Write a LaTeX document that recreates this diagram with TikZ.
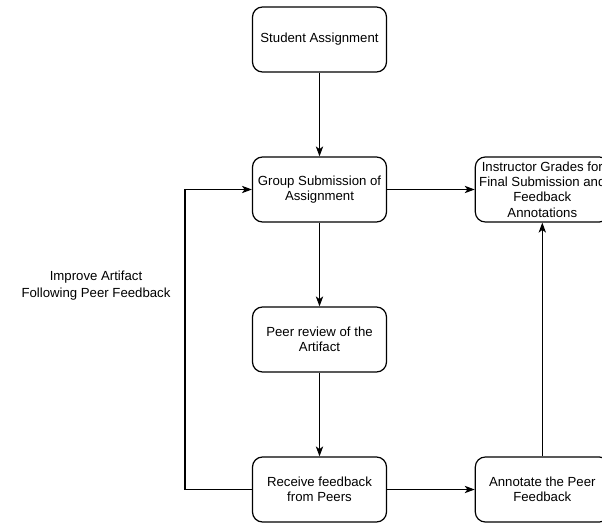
\documentclass[tikz,border=0pt]{standalone}
\usepackage{fontspec}
\setmainfont{Liberation Sans}
\usetikzlibrary{arrows.meta}
\begin{document}
\begin{tikzpicture}[x=0.75pt,y=-0.75pt,
  stepbox/.style={draw, line width=0.9pt, rounded corners=7.5pt, minimum width=134*0.75pt,
    minimum height=65*0.75pt, align=center, font=\fontsize{9.9}{11.4}\selectfont, inner sep=0pt},
  flow/.style={draw, line width=0.9pt, -{Stealth[length=7.5pt,width=5.5pt,inset=2pt]}},
  lbl/.style={align=center, font=\fontsize{9.9}{12.2}\selectfont}]
\useasboundingbox (0,0) rectangle (602,523);
\clip (0,0) rectangle (602,523);
% main column
\node[stepbox] (sa) at (319.5,39.5) {Student Assignment};
\node[stepbox] (gs) at (319.5,189.5) {Group Submission of\\Assignment};
\node[stepbox] (pr) at (319.5,339.5) {Peer review of the\\Artifact};
\node[stepbox] (rf) at (319.5,489.5) {Receive feedback\\from Peers};
% right column
\node[stepbox] (ig) at (542.3,189.5) {Instructor Grades for\\Final Submission and\\Feedback\\Annotations};
\node[stepbox] (ap) at (542.3,489.5) {Annotate the Peer\\Feedback};
% loop label
\node[lbl] (imp) at (96,285.5) {Improve Artifact\\Following Peer Feedback};
\coordinate (lb) at (185,489.5);
\coordinate (lt) at (185,189.5);
\draw[flow] (sa) -- (gs);
\draw[flow] (gs) -- (pr);
\draw[flow] (pr) -- (rf);
\draw[flow] (gs) -- (ig);
\draw[flow] (rf) -- (ap);
\draw[flow] (ap) -- (ig);
\draw[flow] (rf.west) -- (lb) -- (lt) -- (gs.west);
\end{tikzpicture}
\end{document}
